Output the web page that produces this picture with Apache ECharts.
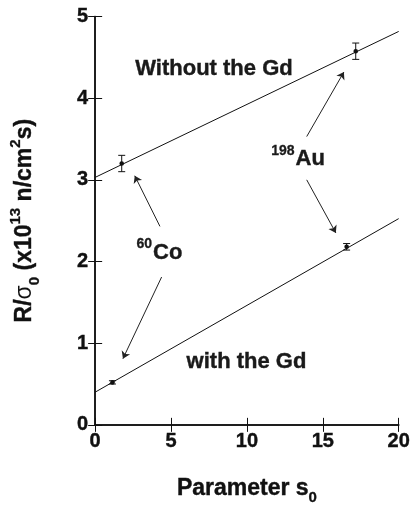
<!DOCTYPE html>
<html>
<head>
<meta charset="utf-8">
<script src="https://cdn.jsdelivr.net/npm/echarts@6/dist/echarts.min.js"></script>
<style>
html,body{margin:0;padding:0;background:#fff;}
#chart{width:413px;height:511px;}
</style>
</head>
<body>
<div id="chart"></div>
<script>
// ---- data ----
const xTicks = [0, 5, 10, 15, 20];
const yTicks = [0, 1, 2, 3, 4, 5];

// measured points: without Gd (upper) and with Gd (lower)
const upperX = [1.75, 17.17];
const upperY = [3.20, 4.575];
const upperErr = [0.10, 0.10];

const lowerX = [1.14, 16.57];
const lowerY = [0.52, 2.18];
const lowerErr = [0.02, 0.04];

// fitted lines (endpoints at s0 = 0 and 20)
const fitX = [0, 20];
const fitUpperY = [3.03, 4.817];
const fitLowerY = [0.40, 2.525];

// annotation arrows [from, to] in data units
const arrowFromX = [13.94, 13.94, 4.27, 4.38];
const arrowFromY = [3.53, 3.00, 2.43, 1.81];
const arrowToX = [16.39, 15.86, 2.61, 1.83];
const arrowToY = [4.32, 2.35, 3.05, 0.81];

// annotation texts and anchor positions in data units
const noteText = ['{m|Without the Gd}', '{sup|198}{m|Au}', '{sup|60}{m|Co}', '{m|with the Gd}'];
const noteX = [7.83, 13.37, 4.24, 9.97];
const noteY = [4.38, 3.28, 2.135, 0.79];

// ---- build ----
const FONT = "'Liberation Sans', Arial, Helvetica, sans-serif";
const INK = '#111';

function pts(xs, ys, errs) {
  return xs.map((x, i) => [x, ys[i], ys[i] - errs[i], ys[i] + errs[i]]);
}
const fitUpper = fitX.map((x, i) => [x, fitUpperY[i]]);
const fitLower = fitX.map((x, i) => [x, fitLowerY[i]]);
const arrows = arrowFromX.map((x, i) => ({coords: [[x, arrowFromY[i]], [arrowToX[i], arrowToY[i]]]}));
const notes = noteText.map((t, i) => [noteX[i], noteY[i], i]);

const noteRich = {
  m: {fontFamily: FONT, fontWeight: 'bold', fontSize: 22, fill: '#1a1a1a', lineHeight: 26, verticalAlign: 'bottom',
      stroke: '#1a1a1a', lineWidth: 0.4},
  sup: {fontFamily: FONT, fontWeight: 'bold', fontSize: 14, fill: '#1a1a1a', lineHeight: 26, verticalAlign: 'top',
      padding: [0, 1, 0, 0], stroke: '#1a1a1a', lineWidth: 0.3}
};

function noteRender(params, api) {
  const p = api.coord([api.value(0), api.value(1)]);
  return {
    type: 'text',
    x: p[0], y: p[1],
    style: {
      text: noteText[api.value(2)],
      align: 'center', verticalAlign: 'middle',
      rich: noteRich
    }
  };
}

function errRender(params, api) {
  const x = api.value(0), y = api.value(1), lo = api.value(2), hi = api.value(3);
  const p = api.coord([x, y]);
  const pl = api.coord([x, lo]);
  const ph = api.coord([x, hi]);
  const cap = 3.5;
  const st = {stroke: INK, lineWidth: 1};
  return {
    type: 'group',
    children: [
      {type: 'line', shape: {x1: p[0], y1: pl[1], x2: p[0], y2: ph[1]}, style: st},
      {type: 'line', shape: {x1: p[0] - cap, y1: pl[1], x2: p[0] + cap, y2: pl[1]}, style: st},
      {type: 'line', shape: {x1: p[0] - cap, y1: ph[1], x2: p[0] + cap, y2: ph[1]}, style: st},
      {type: 'circle', shape: {cx: p[0], cy: p[1], r: 2.3}, style: {fill: INK}}
    ]
  };
}

const axisLine = {show: true, lineStyle: {color: INK, width: 1.5}};
const axisTick = {show: true, inside: true, length: 7, lineStyle: {color: INK, width: 1}};
const tickLabel = {fontFamily: FONT, fontWeight: 'bold', fontSize: 20, color: INK,
  textBorderColor: INK, textBorderWidth: 0.4};

const nameRich = {
  m: {fontFamily: FONT, fontWeight: 'bold', fontSize: 23, color: INK, lineHeight: 34, verticalAlign: 'middle',
      textBorderColor: INK, textBorderWidth: 0.4},
  g: {fontFamily: FONT, fontWeight: 'normal', fontSize: 23, color: INK, lineHeight: 34, verticalAlign: 'middle'},
  sub: {fontFamily: FONT, fontWeight: 'bold', fontSize: 15, color: INK, lineHeight: 34, verticalAlign: 'bottom',
      textBorderColor: INK, textBorderWidth: 0.3},
  sup: {fontFamily: FONT, fontWeight: 'bold', fontSize: 15, color: INK, lineHeight: 34, verticalAlign: 'top',
      textBorderColor: INK, textBorderWidth: 0.3}
};

const chart = echarts.init(document.getElementById('chart'), null, {renderer: 'canvas'});
chart.setOption({
  animation: false,
  backgroundColor: '#fff',
  grid: {left: 94, right: 10, top: 16.5, bottom: 80, containLabel: false},
  xAxis: [
    {
      type: 'value', min: xTicks[0], max: xTicks[xTicks.length - 1], interval: xTicks[1] - xTicks[0],
      position: 'bottom', axisLine, axisTick, splitLine: {show: false},
      axisLabel: Object.assign({margin: 7}, tickLabel),
      name: '{m|Parameter s}{sub|0}', nameLocation: 'middle', nameGap: 47,
      nameTextStyle: {rich: nameRich}
    },
    {
      type: 'value', min: xTicks[0], max: xTicks[xTicks.length - 1], interval: xTicks[1] - xTicks[0],
      position: 'top', axisLine, axisTick, splitLine: {show: false}, axisLabel: {show: false}
    }
  ],
  yAxis: [
    {
      type: 'value', min: yTicks[0], max: yTicks[yTicks.length - 1], interval: yTicks[1] - yTicks[0],
      position: 'left', axisLine, axisTick, splitLine: {show: false},
      axisLabel: Object.assign({margin: 7}, tickLabel),
      name: '{m|R/}{g|σ}{sub|0}{m| (x10}{sup|13}{m| n/cm}{sup|2}{m|s)}',
      nameLocation: 'middle', nameRotate: 90, nameGap: 53,
      nameTextStyle: {rich: nameRich}
    },
    {
      type: 'value', min: yTicks[0], max: yTicks[yTicks.length - 1], interval: yTicks[1] - yTicks[0],
      position: 'right', axisLine, axisTick, splitLine: {show: false}, axisLabel: {show: false}
    }
  ],
  series: [
    {type: 'line', data: fitUpper, showSymbol: false, lineStyle: {color: INK, width: 1}, z: 2},
    {type: 'line', data: fitLower, showSymbol: false, lineStyle: {color: INK, width: 1}, z: 2},
    {type: 'custom', renderItem: errRender, data: pts(upperX, upperY, upperErr), z: 3},
    {type: 'custom', renderItem: errRender, data: pts(lowerX, lowerY, lowerErr), z: 3},
    {
      type: 'lines', coordinateSystem: 'cartesian2d', data: arrows,
      symbol: ['none', 'arrow'], symbolSize: [4.5, 7],
      lineStyle: {color: '#222', width: 1, opacity: 1}, z: 3
    },
    {type: 'custom', renderItem: noteRender, data: notes, z: 4, silent: true}
  ]
});
</script>
</body>
</html>
